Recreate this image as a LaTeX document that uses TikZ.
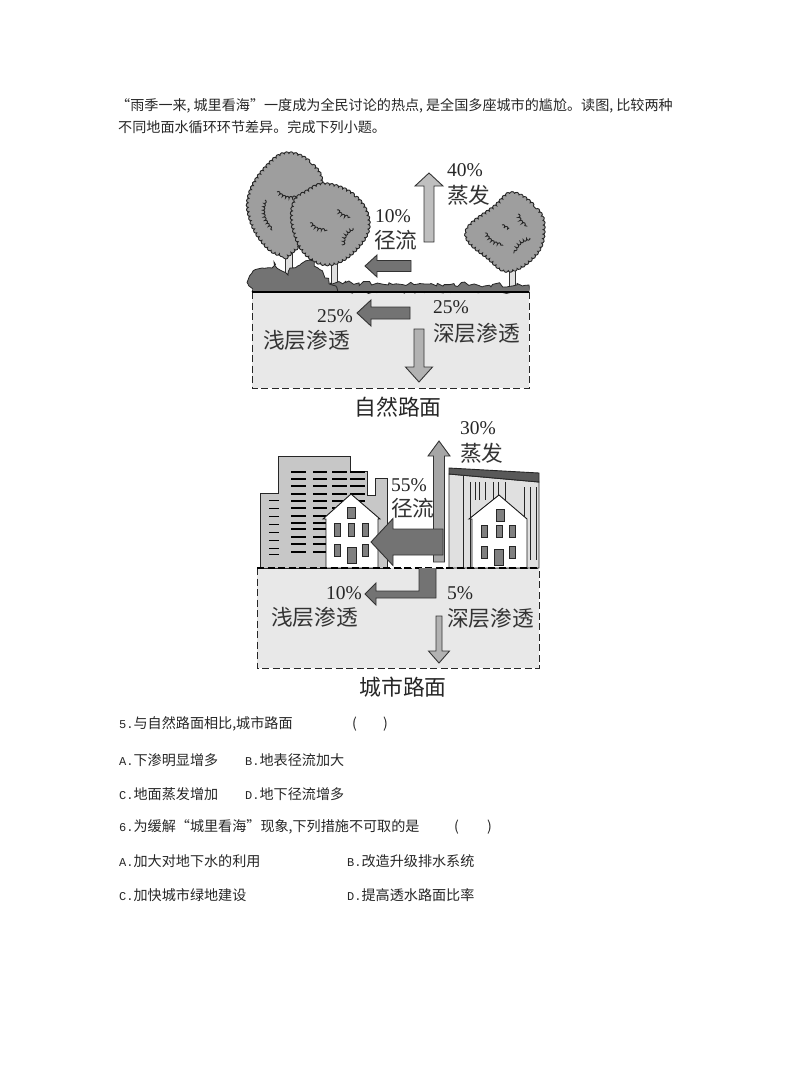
\documentclass[tikz,border=0pt]{standalone}
\usepackage{fontspec}
\setmainfont{Liberation Serif}
\newfontfamily\cjk{Noto Sans CJK SC}
\newfontfamily\latn{Liberation Mono}
\usetikzlibrary{decorations.pathmorphing}

\newcommand{\blockarrow}[8]{
\draw[blockline,fill=#8,shift={(#1,#2)},rotate=#3]
 (0,#5/2) -- (#4-#7,#5/2) -- (#4-#7,#6/2) -- (#4,0) -- (#4-#7,-#6/2) -- (#4-#7,-#5/2) -- (0,-#5/2) -- cycle;
}
\newcommand{\crown}[1]{
\draw[crownline,decorate] plot[smooth cycle,tension=0.7] coordinates {#1};
}
\newcommand{\squig}[2]{
\draw[squigline,decorate] #1 to[bend right=35] #2;
}
\newcommand{\itemlab}[1]{{\latn\fontsize{12}{12}\selectfont #1}}

\begin{document}
\begin{tikzpicture}[x=1pt,y=-1pt,
 blockline/.style = {draw=black!80,line width=0.9pt,line join=miter},
 crownline/.style = {draw=black!85,fill=black!38,line width=0.9pt,decoration={bumps,segment length=9pt,amplitude=2.2pt}},
 squigline/.style = {draw=black!85,line width=0.9pt,decoration={bumps,segment length=7pt,amplitude=2pt}},
 trunk/.style = {draw=black!80,fill=black!12,line width=0.7pt},
 bush/.style = {draw=black!85,fill=black!55,line width=0.8pt,decoration={random steps,segment length=3.5pt,amplitude=2.4pt}},
 soil/.style = {draw=black!85,line width=1pt,dash pattern=on 7pt off 3.5pt},
 wall/.style = {draw=black!85,line width=0.9pt},
 house/.style = {draw=black!90,fill=white,line width=0.9pt},
 pane/.style = {draw=black!85,fill=black!50,line width=0.7pt},
 pct/.style = {anchor=west,inner sep=0pt,font=\fontsize{19.5}{19.5}\selectfont,text=black!85},
 fig/.style = {anchor=west,inner sep=0pt,font=\cjk\fontsize{21.7}{21.7}\selectfont,text=black!80},
 captext/.style = {inner sep=0pt,font=\cjk\fontsize{21.8}{21.8}\selectfont,text=black!85},
 body/.style = {anchor=west,inner sep=0pt,font=\cjk\fontsize{14.1}{14.1}\selectfont,text=black!85}]

\useasboundingbox (0,0) rectangle (794,1077);

% text on top
\node[body] (intro1) at (116,106) {“雨季一来,\kern3pt 城里看海”一度成为全民讨论的热点,\kern3pt 是全国多座城市的尴尬。读图,\kern3pt 比较两种};
\node[body] (intro2) at (118,127) {不同地面水循环环节差异。完成下列小题。};

% natural ground
\fill[black!9] (252,292) rectangle (529,388);
\draw[soil] (252,292) -- (252,388) -- (529,388) -- (529,292);

\draw[trunk] (285,250) rectangle (292,280);
\draw[trunk] (331,258) rectangle (337,287);
\draw[trunk] (509,268) rectangle (515,290);

\crown{(288,154) (312,165) (321,188) (310,230) (290,253) (283,255) (267,246) (252,222) (250,195) (267,167)}
\crown{(327,185) (355,197) (368,222) (358,246) (333,263) (309,256) (295,232) (294,205) (307,192)}
\crown{(513,194) (536,209) (543,228) (536,253) (510,270) (489,258) (467,233) (495,207)}

\squig{(265,200)}{(272,230)}
\squig{(277,192)}{(297,197)}
\squig{(310,223)}{(327,230)}
\squig{(337,210)}{(350,217)}
\squig{(353,228)}{(343,245)}
\squig{(485,233)}{(503,245)}
\squig{(518,214)}{(527,226)}
\squig{(530,238)}{(514,253)}
\squig{(502,225)}{(509,228)}

\draw[bush,decorate] (330,291) -- (330,283) -- (529,285) -- (529,291) -- cycle;
\fill[black!55] (330,287) -- (529,288) -- (529,292) -- (330,292) -- cycle;
\draw[bush,decorate] (252,292) -- (248,284) -- (252,273) -- (262,268) -- (272,268) -- (274,262) -- (280,270) -- (288,275) -- (290,268) -- (300,265) -- (310,260) -- (318,268) -- (325,278) -- (332,285) -- (338,292);
\fill[black!55] (253,291) -- (252,276) -- (262,271) -- (272,271) -- (280,273) -- (288,278) -- (300,268) -- (310,263) -- (322,278) -- (332,291) -- cycle;
\draw[black,line width=1.3pt] (252,292) -- (529,292);

\blockarrow{429}{242}{90}{69}{10}{28}{13}{black!25}
\blockarrow{411}{266}{180}{46}{11}{22}{12}{black!55}
\blockarrow{410}{313}{180}{53}{12}{26}{14}{black!55}
\blockarrow{419}{329}{-90}{53}{10}{27}{15}{black!30}

\node[pct] (evapa) at (447,170) {40\%};
\node[fig] (evapb) at (447,195) {蒸发};
\node[pct] (runa) at (375,216) {10\%};
\node[fig] (runb) at (374,240) {径流};
\node[pct] (shala) at (317,316) {25\%};
\node[fig] (shalb) at (263,340) {浅层渗透};
\node[pct] (deepa) at (433,307) {25\%};
\node[fig] (deepb) at (433,333) {深层渗透};
\node[captext] (natcap) at (398,407) {自然路面};

% city ground
\fill[black!9] (257,568) rectangle (539,668);
\draw[soil] (257,568) rectangle (539,668);

\draw[wall,fill=black!22] (260,568) -- (260,493) -- (278,493) -- (278,456) -- (350,456) -- (350,471) -- (367,471) -- (367,495) -- (375,495) -- (375,478) -- (387,478) -- (387,568) -- cycle;
\foreach \yy in {472,479,486,494,501,508,516,523,529,537,544,552}{
 \draw[black,line width=1.1pt] (291,\yy) -- (306,\yy);
 \draw[black,line width=1.1pt] (313,\yy) -- (327,\yy);
 \draw[black,line width=1.1pt] (332,\yy) -- (347,\yy);
 \draw[black,line width=1.1pt] (350,\yy) -- (365,\yy);
}
\foreach \yy in {500,508,516,524,532,540,548,554}{
 \draw[black,line width=1pt] (269,\yy) -- (279,\yy);
}

\draw[wall,fill=black!12] (449,568) -- (449,474) -- (539,482) -- (539,568) -- cycle;
\draw[wall,fill=black!65] (449,468) -- (539,473) -- (539,482) -- (449,474) -- cycle;
\foreach \xx in {463,470,475,479,485,493,498,505}{
 \draw[black!85,line width=0.9pt] (\xx,482) -- (\xx,500);
}
\foreach \xx in {524,530,536}{
 \draw[black!85,line width=0.9pt] (\xx,487) -- (\xx,560);
}
\draw[black!85,line width=0.9pt] (463,476) -- (463,568);
\draw[black!85,line width=0.9pt] (470,500) -- (470,568);

\draw[house] (326,568) -- (326,519) -- (323,519) -- (351,494) -- (380,519) -- (378,519) -- (378,568) -- cycle;
\draw[house] (472,568) -- (472,519) -- (469,519) -- (499,495) -- (527,519) -- (527,568) -- cycle;

\draw[pane] (347,507) rectangle (355,518);
\foreach \xx in {334,348,362}{
 \draw[pane] (\xx,523) rectangle (\xx+6,536);
}
\draw[pane] (334,544) rectangle (340,556);
\draw[pane] (362,544) rectangle (368,556);
\draw[pane] (347,547) rectangle (356,563);

\draw[pane] (496,509) rectangle (504,521);
\foreach \xx in {481,496,509}{
 \draw[pane] (\xx,525) rectangle (\xx+6,537);
}
\draw[pane] (481,546) rectangle (487,558);
\draw[pane] (509,546) rectangle (515,558);
\draw[pane] (494,549) rectangle (503,565);

\draw[black,line width=1.2pt,dash pattern=on 7pt off 3.5pt] (257,568) -- (539,568);

\blockarrow{439}{562}{90}{121}{11}{22}{15}{black!35}
\blockarrow{443}{542}{180}{72}{26}{47}{22}{black!55}
\fill[black!55] (419,568) -- (436,568) -- (436,598) -- (376,598) -- (376,605) -- (365,594) -- (376,583) -- (376,591) -- (419,591) -- cycle;
\draw[blockline] (419,569) -- (419,591) -- (376,591) -- (376,583) -- (365,594) -- (376,605) -- (376,598) -- (436,598) -- (436,569);
\blockarrow{439}{616}{-90}{47}{6}{21}{12}{black!30}

\node[pct] (cevapa) at (460,428) {30\%};
\node[fig] (cevapb) at (460,453) {蒸发};
\node[pct] (cruna) at (391,485) {55\%};
\node[fig] (crunb) at (391,508) {径流};
\node[pct] (cshala) at (326,593) {10\%};
\node[fig] (cshalb) at (271,617) {浅层渗透};
\node[pct] (cdeepa) at (447,593) {5\%};
\node[fig] (cdeepb) at (447,618) {深层渗透};
\node[captext] (citycap) at (403,687) {城市路面};

% questions
\node[body] (q5) at (119,724) {\itemlab{5.}与自然路面相比,城市路面};
\node[body] (q5p) at (352,724) {(};
\node[body] (q5q) at (383,724) {)};
\node[body] (q5a) at (119,760) {\itemlab{A.}下渗明显增多};
\node[body] (q5b) at (245,760) {\itemlab{B.}地表径流加大};
\node[body] (q5c) at (119,794) {\itemlab{C.}地面蒸发增加};
\node[body] (q5d) at (245,794) {\itemlab{D.}地下径流增多};
\node[body] (q6) at (119,827) {\itemlab{6.}为缓解“城里看海”现象,下列措施不可取的是};
\node[body] (q6p) at (454,827) {(};
\node[body] (q6q) at (487,827) {)};
\node[body] (q6a) at (119,861) {\itemlab{A.}加大对地下水的利用};
\node[body] (q6b) at (347,861) {\itemlab{B.}改造升级排水系统};
\node[body] (q6c) at (119,895) {\itemlab{C.}加快城市绿地建设};
\node[body] (q6d) at (347,895) {\itemlab{D.}提高透水路面比率};

\end{tikzpicture}
\end{document}
